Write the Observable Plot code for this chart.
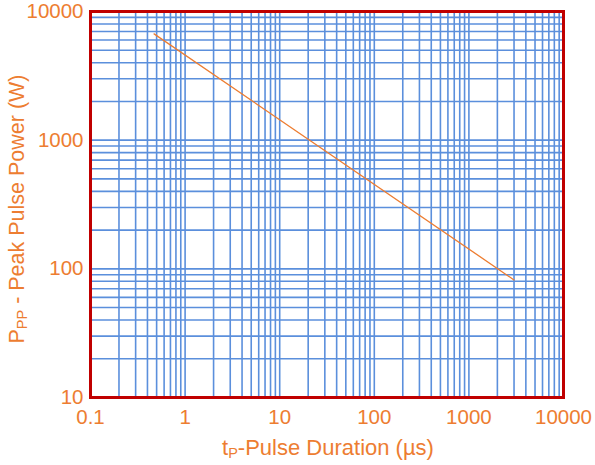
<!DOCTYPE html>
<html>
<head>
<meta charset="utf-8">
<script src="https://cdn.jsdelivr.net/npm/d3@7"></script>
<script src="https://cdn.jsdelivr.net/npm/@observablehq/plot@0.6"></script>
<style>
  html, body { margin: 0; padding: 0; background: #fff; }
  #chart svg { display: block; }
</style>
</head>
<body>
<div id="chart"></div>
<script>
// Data
const pulseDuration = [0.47, 3000];   // µs
const peakPower = [6700, 82];          // W

// Tick labels
const xTicks = [0.1, 1, 10, 100, 1000, 10000];
const yTicks = [10, 100, 1000, 10000];
const minorSteps = [1, 2, 3, 4, 5, 6, 7, 8, 9];

const xGrid = xTicks.slice(0, -1).flatMap(d => minorSteps.map(m => d * m)).concat([10000]);
const yGrid = yTicks.slice(0, -1).flatMap(d => minorSteps.map(m => d * m)).concat([10000]);

const curve = pulseDuration.map((t, i) => ({t, p: peakPower[i]}));

const orange = "#ed7d31";
const gridBlue = "#5b8fdc";
const frameRed = "#c00000";

const W = 595, H = 465;
const plot = Plot.plot({
  width: W,
  height: H,
  marginLeft: 90,
  marginRight: 32,
  marginTop: 11,
  marginBottom: 68,
  style: {fontFamily: "Liberation Sans, Arial, sans-serif", background: "#fff"},
  x: {type: "log", domain: [0.1, 10000]},
  y: {type: "log", domain: [10, 10000]},
  marks: [
    Plot.ruleX(xGrid, {stroke: gridBlue, strokeWidth: 1.6}),
    Plot.ruleY(yGrid, {stroke: gridBlue, strokeWidth: 1.6}),
    Plot.line(curve, {x: "t", y: "p", stroke: orange, strokeWidth: 1.3}),
    Plot.frame({stroke: frameRed, strokeWidth: 3}),
    Plot.axisX(xTicks, {tickSize: 0, tickPadding: 12, fontSize: 20.5, fill: orange, label: null,
      tickFormat: d => String(d)}),
    Plot.axisY(yTicks, {tickSize: 0, tickPadding: 7, fontSize: 20.5, fill: orange, label: null,
      tickFormat: d => String(d)})
  ]
});

document.getElementById("chart").appendChild(plot);

// Axis titles with subscripts
const svg = d3.select(plot);
const xt = svg.append("text")
  .attr("x", 328).attr("y", 455)
  .attr("text-anchor", "middle")
  .attr("fill", orange)
  .attr("font-size", 22)
  .attr("font-family", "Liberation Sans, Arial, sans-serif");
xt.append("tspan").text("t");
xt.append("tspan").attr("font-size", 14.5).attr("dy", 3).text("P");
xt.append("tspan").attr("dy", -3).text("-Pulse Duration (µs)");

const yt = svg.append("text")
  .attr("transform", "translate(24,209) rotate(-90)")
  .attr("text-anchor", "middle")
  .attr("fill", orange)
  .attr("font-size", 21.5)
  .attr("font-family", "Liberation Sans, Arial, sans-serif");
yt.append("tspan").text("P");
yt.append("tspan").attr("font-size", 14.5).attr("dy", 3).text("PP");
yt.append("tspan").attr("dy", -3).text(" - Peak Pulse Power (W)");
</script>
</body>
</html>
